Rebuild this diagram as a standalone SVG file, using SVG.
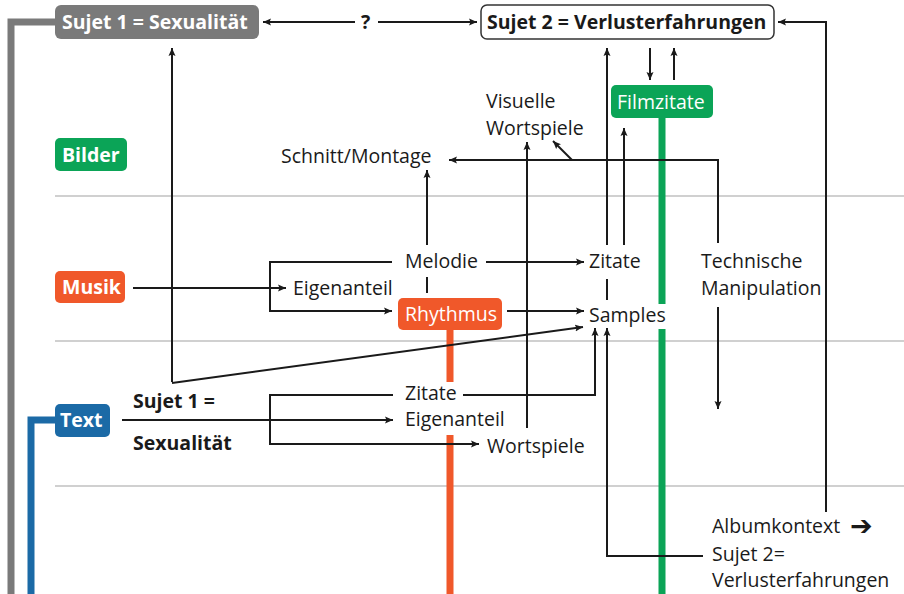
<svg xmlns="http://www.w3.org/2000/svg" width="904" height="594" viewBox="0 0 904 594">
<defs>
<marker id="ah" markerUnits="userSpaceOnUse" markerWidth="10" markerHeight="8" refX="8" refY="4" orient="auto"><path d="M0,0.5 L8,4 L0,7.5 L1.5,4 Z" fill="#1a1a1a"/></marker>
</defs>
<style>
.t{font-family:"Open Sans","Noto Sans",sans-serif;font-size:19.5px;fill:#1a1a1a}
.b{font-weight:bold}
.w{fill:#fff}
.c{fill:none;stroke:#1a1a1a;stroke-width:2}
.a{marker-end:url(#ah)}
.dv{stroke:#c0c0c0;stroke-width:1.5}
.gray{fill:#7a7a7a}
.green{fill:#0ba457}
.orange{fill:#f0582a}
.blue{fill:#1b6aa6}
.arr{font-family:"DejaVu Sans",sans-serif;font-size:27px;font-weight:bold;fill:#1a1a1a}
</style>
<rect width="904" height="594" fill="#fff"/>

<g id="dividers">
<line class="dv" x1="55" y1="196" x2="904" y2="196"/>
<line class="dv" x1="55" y1="341" x2="904" y2="341"/>
<line class="dv" x1="55" y1="486" x2="904" y2="486"/>
</g>

<g id="lanes">
<path d="M56,22 H11 V594" fill="none" stroke="#7a7a7a" stroke-width="7"/>
<path d="M56,420 H31 V594" fill="none" stroke="#1b6aa6" stroke-width="7"/>
<path d="M662,118 V304 M662,329 V594" fill="none" stroke="#0ba457" stroke-width="7"/>
<path d="M450,330 V382 M450,435 V594" fill="none" stroke="#f0582a" stroke-width="7"/>
</g>

<g id="connectors">
<line class="c a" x1="355" y1="22" x2="263" y2="22"/>
<line class="c a" x1="378" y1="22" x2="477" y2="22"/>
<path class="c a" d="M826,512 V22 H778"/>
<line class="c a" x1="650" y1="48" x2="650" y2="80"/>
<line class="c a" x1="674" y1="80" x2="674" y2="48"/>
<line class="c a" x1="607" y1="245" x2="607" y2="48"/>
<line class="c" x1="607" y1="279" x2="607" y2="300"/>
<line class="c a" x1="624" y1="245" x2="624" y2="128"/>
<line class="c a" x1="172" y1="382" x2="172" y2="48"/>
<line class="c a" x1="172" y1="383" x2="583" y2="327"/>
<path class="c a" d="M718,243 V160 H449"/>
<line class="c a" x1="718" y1="307" x2="718" y2="409"/>
<line class="c a" x1="572" y1="160" x2="553" y2="141"/>
<line class="c a" x1="427" y1="245" x2="427" y2="170"/>
<line class="c" x1="427" y1="277" x2="427" y2="293"/>
<line class="c a" x1="527" y1="428" x2="527" y2="142"/>
<line class="c a" x1="133" y1="288" x2="286" y2="288"/>
<path class="c a" d="M392,262 H270 V311 H392"/>
<line class="c a" x1="486" y1="262" x2="584" y2="262"/>
<line class="c a" x1="507" y1="311" x2="584" y2="311"/>
<line class="c a" x1="122" y1="420" x2="393" y2="420"/>
<path class="c a" d="M393,395 H270 V444 H479"/>
<path class="c a" d="M463,395 H595 V328"/>
<path class="c a" d="M703,556 H607 V328"/>
</g>

<g id="sujet1">
<rect class="gray" x="55" y="5" width="204" height="34" rx="6"/>
<text class="t b w" x="62" y="29">Sujet 1 = Sexualität</text>
</g>
<g id="question"><text class="t b" x="361" y="29">?</text></g>
<g id="sujet2">
<rect x="481" y="5" width="293" height="34" rx="6" fill="#fff" stroke="#333" stroke-width="1.5"/>
<text class="t b" x="487" y="29">Sujet 2 = Verlusterfahrungen</text>
</g>
<g id="bilder">
<rect class="green" x="55" y="138" width="72" height="33" rx="5"/>
<text class="t b w" x="62" y="162">Bilder</text>
</g>
<g id="musik">
<rect class="orange" x="55" y="271" width="70" height="32" rx="5"/>
<text class="t b w" x="62" y="294">Musik</text>
</g>
<g id="textlabel">
<rect class="blue" x="55" y="404" width="55" height="33" rx="5"/>
<text class="t b w" x="60" y="427">Text</text>
</g>
<g id="rhythmus">
<rect class="orange" x="398" y="298" width="104" height="32" rx="5"/>
<text class="t w" x="405" y="321">Rhythmus</text>
</g>
<g id="filmzitate">
<rect class="green" x="611" y="85" width="102" height="33" rx="5"/>
<text class="t w" x="617" y="109">Filmzitate</text>
</g>
<g id="schnitt"><text class="t" x="281" y="163">Schnitt/Montage</text></g>
<g id="visuelle"><text class="t" x="486" y="108">Visuelle</text><text class="t" x="486" y="135">Wortspiele</text></g>
<g id="eigenanteil1"><text class="t" x="293" y="295">Eigenanteil</text></g>
<g id="melodie"><text class="t" x="405" y="268">Melodie</text></g>
<g id="zitate1"><text class="t" x="589" y="268">Zitate</text></g>
<g id="samples"><text class="t" x="589" y="322">Samples</text></g>
<g id="technische"><text class="t" x="701" y="268">Technische</text><text class="t" x="701" y="295">Manipulation</text></g>
<g id="sujet1text"><text class="t b" x="133" y="408">Sujet 1 =</text><text class="t b" x="133" y="450">Sexualität</text></g>
<g id="zitate2"><text class="t" x="405" y="400">Zitate</text></g>
<g id="eigenanteil2"><text class="t" x="405" y="426">Eigenanteil</text></g>
<g id="wortspiele"><text class="t" x="487" y="453">Wortspiele</text></g>
<g id="album">
<text class="t" x="712" y="533">Albumkontext</text>
<text class="arr" x="850" y="535">➔</text>
<text class="t" x="712" y="561">Sujet 2=</text>
<text class="t" x="712" y="587">Verlusterfahrungen</text>
</g>
</svg>
